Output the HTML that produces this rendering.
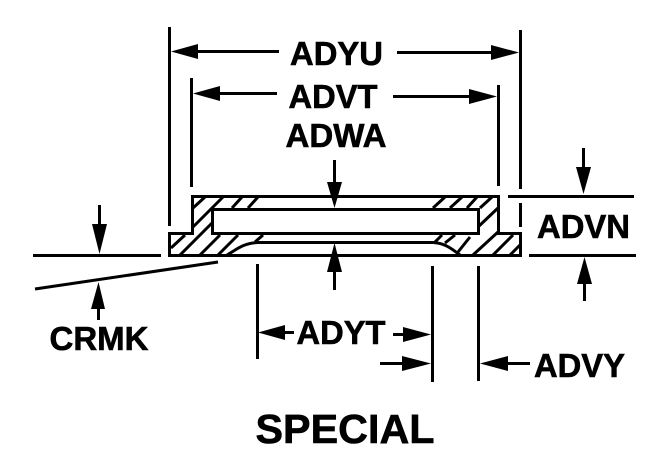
<!DOCTYPE html>
<html><head><meta charset="utf-8"><style>
html,body{margin:0;padding:0;background:#fff}
svg{display:block}
text{font-family:"Liberation Sans",sans-serif;font-weight:bold;fill:#000;stroke:#000;stroke-width:.6px}
</style></head><body>
<svg width="662" height="465" viewBox="0 0 662 465" xmlns="http://www.w3.org/2000/svg">
<g stroke="#000" stroke-width="3" fill="none">
<!-- part outline -->
<path d="M169.500 255.500V233.500H192.500V196.500H498.500V233.500H520.500V255.500Z"/>
<path d="M478.500 233.500H212.500V209.500H478.500Z"/>
<path d="M227 255C236 250 243 243 258 242.500H433C445 243 452 249 460 255"/>
<!-- hatching -->
<path d="M193 208L205 197M193 227L223 197M232 208L242 197M248 208L258 197M171 248L185 235M180 255L212 223M200 255L220 235M218 255L238 235M255 242L263 235M433 208L445 197M450 208L462 197M467 208L477 197M480 208L492 197M478 227L498 208M435 242L442 235M445 243L455 235M458 252L470 237M473 255L498 232M493 255L513 235M510 255L520 245"/>
<!-- extension lines -->
<path d="M169.500 27V226M520.500 30V189M520.500 203V227M191.500 78V187M498.500 85V186M257.500 264V359M432.500 266V382M478.500 266V381M33 255.500H161M508 196.500H634M529 255.500H636M35 289L218 262"/>
<!-- arrow shafts -->
<path d="M198 51.500H279M397 52.500H491M220 93.500H277M393 96.500H469M334.500 160V182M334.500 272V290M583.500 148V167M584.500 284V301M99.500 205V224M98.500 309V320M285 332.500H294M393 334.500H403M380 363.500H402M508 363.500H530"/>
</g>
<g fill="#000">
<path d="M171 51.500L198 44V59Z"/>
<path d="M519 52.500L491 45V60Z"/>
<path d="M193 93.500L220 86V101Z"/>
<path d="M497 96.500L469 89V104Z"/>
<path d="M334.500 208L327 182H342Z"/>
<path d="M334.500 243L327 272H342Z"/>
<path d="M583.500 194L576 167H591Z"/>
<path d="M584.500 257L577 284H592Z"/>
<path d="M99.500 254L92 224H107Z"/>
<path d="M98.500 282L91 309H105Z"/>
<path d="M258 332.500L285 325V340Z"/>
<path d="M431 334.500L403 327V342Z"/>
<path d="M431 363.500L402 356V371Z"/>
<path d="M480 363.500L508 356V371Z"/>
</g>
<text x="290" y="65" font-size="33" textLength="93" lengthAdjust="spacingAndGlyphs">ADYU</text>
<text x="288.500" y="108" font-size="33" textLength="89" lengthAdjust="spacingAndGlyphs">ADVT</text>
<text x="285.500" y="147" font-size="33" textLength="101" lengthAdjust="spacingAndGlyphs">ADWA</text>
<text x="537" y="238" font-size="33" textLength="93" lengthAdjust="spacingAndGlyphs">ADVN</text>
<text x="49.500" y="350" font-size="33" textLength="99" lengthAdjust="spacingAndGlyphs">CRMK</text>
<text x="296.500" y="344" font-size="33" textLength="89" lengthAdjust="spacingAndGlyphs">ADYT</text>
<text x="534" y="377" font-size="33" textLength="91" lengthAdjust="spacingAndGlyphs">ADVY</text>
<text x="255.500" y="443" font-size="41" textLength="179" lengthAdjust="spacingAndGlyphs">SPECIAL</text>
</svg>
</body></html>
